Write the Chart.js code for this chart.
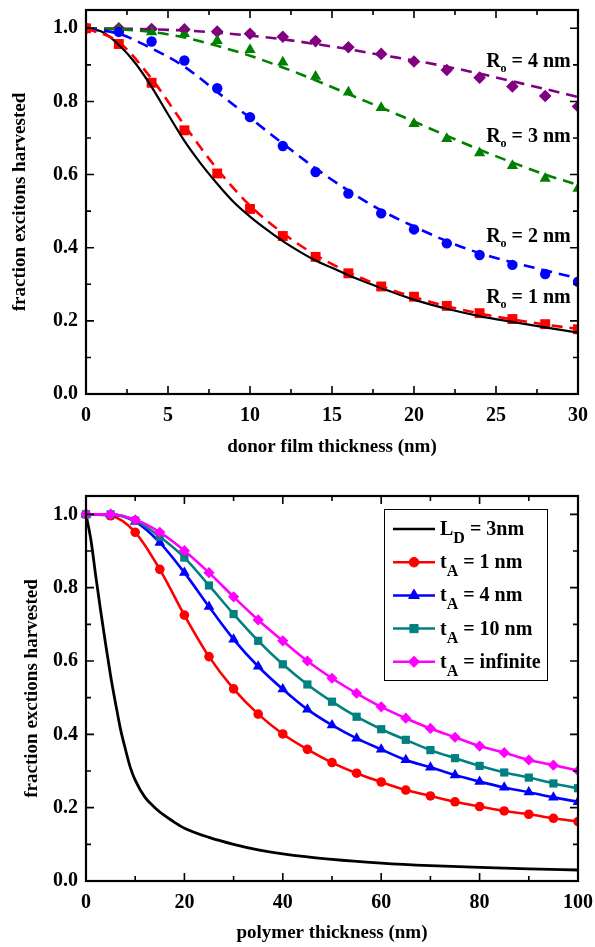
<!DOCTYPE html>
<html>
<head>
<meta charset="utf-8">
<script src="https://cdn.jsdelivr.net/npm/chart.js@4.4.1/dist/chart.umd.min.js"></script>
<style>
  html, body { margin: 0; padding: 0; background: #fff; }
  canvas { position: absolute; left: 0; }
  #donorChart { top: 0; }
  #polymerChart { top: 470px; }
</style>
</head>
<body>
<canvas id="donorChart" width="595" height="470"></canvas>
<canvas id="polymerChart" width="595" height="477"></canvas>
<script>
// ---- top panel: donor film thickness ----
const donorX = [0, 2, 4, 6, 8, 10, 12, 14, 16, 18, 20, 22, 24, 26, 28, 30];
const donorXTicks = [0, 5, 10, 15, 20, 25, 30];

// solid black curve (no energy transfer)
const bareX = [0, 1, 2, 3, 4, 5, 6, 7, 8, 9, 10, 11, 12, 13, 14, 15, 16, 18, 20, 22, 24, 26, 28, 30];
const bareCurve = [1.0, 0.99, 0.955, 0.905, 0.84, 0.765, 0.692, 0.63, 0.575, 0.525, 0.485, 0.45, 0.418, 0.39, 0.365, 0.345, 0.325, 0.29, 0.258, 0.233, 0.213, 0.197, 0.182, 0.168];

// symbols
const ro1Points = [1.0, 0.957, 0.851, 0.721, 0.603, 0.506, 0.432, 0.375, 0.33, 0.294, 0.266, 0.241, 0.221, 0.205, 0.191, 0.177];
const ro2Points = [1.0, 0.99, 0.964, 0.912, 0.836, 0.757, 0.678, 0.607, 0.548, 0.494, 0.45, 0.412, 0.38, 0.353, 0.328, 0.307];
const ro3Points = [1.0, 0.998, 0.99, 0.985, 0.966, 0.941, 0.907, 0.868, 0.825, 0.783, 0.739, 0.698, 0.659, 0.624, 0.589, 0.562];
const ro4Points = [1.0, 1.0, 0.998, 0.997, 0.991, 0.985, 0.977, 0.965, 0.948, 0.93, 0.909, 0.886, 0.865, 0.841, 0.815, 0.786];

// dashed fits
const ro1Fit = [1.0, 0.962, 0.862, 0.735, 0.615, 0.515, 0.44, 0.38, 0.333, 0.295, 0.265, 0.24, 0.22, 0.204, 0.19, 0.178];
const ro2Fit = [1.0, 0.985, 0.945, 0.895, 0.826, 0.755, 0.685, 0.617, 0.556, 0.502, 0.458, 0.418, 0.385, 0.36, 0.338, 0.316];
const ro3Fit = [1.0, 0.997, 0.99, 0.975, 0.952, 0.925, 0.893, 0.858, 0.82, 0.783, 0.745, 0.706, 0.668, 0.633, 0.6, 0.572];
const ro4Fit = [1.0, 0.999, 0.997, 0.994, 0.988, 0.98, 0.97, 0.957, 0.943, 0.927, 0.912, 0.895, 0.876, 0.855, 0.834, 0.812];

const roLabels = ['4', '3', '2', '1'];

// ---- bottom panel: polymer thickness ----
const polyX = [0, 5, 10, 15, 20, 25, 30, 35, 40, 45, 50, 55, 60, 65, 70, 75, 80, 85, 90, 95, 100];
const polyXTicks = [0, 20, 40, 60, 80, 100];

const ldX = [0, 1, 2, 3, 4, 5, 6, 7, 8, 9, 10, 12, 14, 16, 18, 20, 25, 30, 35, 40, 50, 60, 70, 80, 90, 100];
const ldCurve = [1.0, 0.93, 0.83, 0.735, 0.645, 0.56, 0.485, 0.415, 0.36, 0.31, 0.275, 0.228, 0.2, 0.178, 0.16, 0.144, 0.119, 0.1, 0.085, 0.074, 0.059, 0.049, 0.042, 0.037, 0.033, 0.03];

const tA1 = [1.0, 0.996, 0.951, 0.85, 0.725, 0.612, 0.524, 0.455, 0.401, 0.359, 0.323, 0.294, 0.27, 0.248, 0.232, 0.216, 0.203, 0.191, 0.182, 0.171, 0.162];
const tA4 = [1.0, 1.0, 0.98, 0.923, 0.841, 0.748, 0.659, 0.585, 0.523, 0.468, 0.425, 0.389, 0.359, 0.33, 0.31, 0.289, 0.271, 0.255, 0.242, 0.228, 0.216];
const tA10 = [1.0, 1.0, 0.983, 0.939, 0.882, 0.806, 0.728, 0.655, 0.591, 0.536, 0.489, 0.448, 0.414, 0.385, 0.357, 0.335, 0.314, 0.296, 0.282, 0.266, 0.253];
const tAinf = [1.0, 1.0, 0.985, 0.951, 0.901, 0.841, 0.775, 0.712, 0.655, 0.6, 0.553, 0.512, 0.475, 0.444, 0.416, 0.392, 0.368, 0.35, 0.33, 0.316, 0.301];

const legendMain = ['L', 't', 't', 't', 't'];
const legendSub = ['D', 'A', 'A', 'A', 'A'];
const legendRest = [' = 3nm', ' = 1 nm', ' = 4 nm', ' = 10 nm', ' = infinite'];

const yTicks = [0, 0.2, 0.4, 0.6, 0.8, 1.0];

const FONT = '"Liberation Serif", "Times New Roman", serif';

function pairs(xs, ys) {
    return xs.map((x, i) => ({ x: x, y: ys[i] }));
}

// midpoints between major ticks -> minor ticks
function midpoints(arr) {
    const out = [];
    for (let i = 0; i < arr.length - 1; i++) out.push((arr[i] + arr[i + 1]) / 2);
    return out;
}

// box frame + inward ticks on all four sides
const frameTicks = {
    id: 'frameTicks',
    afterDatasetsDraw(chart, args, opts) {
        const { ctx, chartArea: a, scales: { x, y } } = chart;
        ctx.save();
        ctx.strokeStyle = '#000';
        ctx.lineWidth = 1.6;
        ctx.beginPath();
        const tick = (vals, len) => {
            vals.forEach(v => {
                const px = x.getPixelForValue(v);
                ctx.moveTo(px, a.bottom); ctx.lineTo(px, a.bottom - len);
                ctx.moveTo(px, a.top); ctx.lineTo(px, a.top + len);
            });
        };
        const tickY = (vals, len) => {
            vals.forEach(v => {
                const py = y.getPixelForValue(v);
                ctx.moveTo(a.left, py); ctx.lineTo(a.left + len, py);
                ctx.moveTo(a.right, py); ctx.lineTo(a.right - len, py);
            });
        };
        tick(opts.xMajor, 8);
        tick(midpoints(opts.xMajor), 5);
        tickY(yTicks, 8);
        tickY(midpoints(yTicks), 5);
        ctx.stroke();
        ctx.lineWidth = 2.2;
        ctx.strokeRect(a.left, a.top, a.right - a.left, a.bottom - a.top);
        ctx.restore();
    }
};

// "Ro = n nm" labels on the top panel
const roText = {
    id: 'roText',
    afterDatasetsDraw(chart, args, opts) {
        const { ctx, scales: { x, y } } = chart;
        ctx.save();
        ctx.fillStyle = '#000';
        ctx.textBaseline = 'alphabetic';
        roLabels.forEach((lab, i) => {
            let px = x.getPixelForValue(opts.x);
            const py = y.getPixelForValue(opts.y[i]);
            ctx.font = 'bold 20px ' + FONT;
            ctx.fillText('R', px, py);
            px += ctx.measureText('R').width;
            ctx.font = 'bold 12px ' + FONT;
            ctx.fillText('o', px, py + 5);
            px += ctx.measureText('o').width;
            ctx.font = 'bold 20px ' + FONT;
            ctx.fillText(' = ' + lab + ' nm', px, py);
        });
        ctx.restore();
    }
};

// boxed legend in the bottom panel
const boxLegend = {
    id: 'boxLegend',
    afterDatasetsDraw(chart) {
        const { ctx, chartArea: a } = chart;
        const left = a.right - 194, top = a.top + 13, w = 163, h = 171;
        ctx.save();
        ctx.fillStyle = '#fff';
        ctx.fillRect(left, top, w, h);
        ctx.strokeStyle = '#000';
        ctx.lineWidth = 1;
        ctx.strokeRect(left + 0.5, top + 0.5, w, h);
        chart.data.datasets.forEach((ds, i) => {
            const y = top + 20 + i * 33.2;
            ctx.strokeStyle = ds.borderColor;
            ctx.lineWidth = 2.5;
            ctx.beginPath();
            ctx.moveTo(left + 9, y);
            ctx.lineTo(left + 51, y);
            ctx.stroke();
            if (ds.pointRadius > 0) {
                ctx.fillStyle = ds.borderColor;
                ctx.lineWidth = 1;
                Chart.helpers.drawPoint(ctx, {
                    pointStyle: ds.pointStyle,
                    radius: ds.pointRadius,
                    rotation: 0,
                    borderWidth: 1
                }, left + 30, y);
            }
            ctx.fillStyle = '#000';
            let tx = left + 56;
            ctx.font = 'bold 20px ' + FONT;
            ctx.fillText(legendMain[i], tx, y + 6);
            tx += ctx.measureText(legendMain[i]).width;
            ctx.font = 'bold 16px ' + FONT;
            ctx.fillText(legendSub[i], tx, y + 14);
            tx += ctx.measureText(legendSub[i]).width;
            ctx.font = 'bold 20px ' + FONT;
            ctx.fillText(legendRest[i], tx, y + 6);
        });
        ctx.restore();
    }
};

function axes(xMax, xTicks, xTitle, yTitle, titleXPad, yTitlePad) {
    return {
        x: {
            type: 'linear',
            min: 0,
            max: xMax,
            grid: { display: false, drawTicks: false },
            border: { display: false },
            afterBuildTicks: s => { s.ticks = xTicks.map(v => ({ value: v })); },
            afterFit: s => {
                s.height = titleXPad.height;
                s.paddingLeft = 0;
                s.paddingRight = 0;
            },
            ticks: {
                color: '#000',
                padding: 10,
                maxRotation: 0,
                font: { family: FONT, weight: 'bold', size: 20 },
                callback: v => String(v)
            },
            title: {
                display: true,
                text: xTitle,
                color: '#000',
                padding: { top: 0, bottom: titleXPad.bottom },
                font: { family: FONT, weight: 'bold', size: 19 }
            }
        },
        y: {
            type: 'linear',
            min: 0,
            max: 1.05,
            grid: { display: false, drawTicks: false },
            border: { display: false },
            afterBuildTicks: s => { s.ticks = yTicks.map(v => ({ value: v })); },
            afterFit: s => {
                s.width = 86;
                s.paddingTop = 0;
                s.paddingBottom = 0;
            },
            ticks: {
                color: '#000',
                padding: 8,
                font: { family: FONT, weight: 'bold', size: 20 },
                callback: v => Number(v).toFixed(1)
            },
            title: {
                display: true,
                text: yTitle,
                color: '#000',
                padding: { top: yTitlePad, bottom: 0 },
                font: { family: FONT, weight: 'bold', size: 19 }
            }
        }
    };
}

function fitLine(data, color) {
    return {
        data: pairs(donorX, data),
        borderColor: color,
        borderWidth: 2.6,
        borderDash: [11, 7],
        pointRadius: 0,
        cubicInterpolationMode: 'monotone',
        fill: false
    };
}

function symbols(data, color, style, r) {
    return {
        data: pairs(donorX, data),
        showLine: false,
        pointStyle: style,
        pointRadius: r,
        pointBackgroundColor: color,
        pointBorderColor: color,
        pointBorderWidth: 0,
        borderColor: color
    };
}

new Chart(document.getElementById('donorChart'), {
    type: 'line',
    data: {
        datasets: [
            fitLine(ro1Fit, '#ff0000'),
            fitLine(ro2Fit, '#0000ff'),
            fitLine(ro3Fit, '#008000'),
            fitLine(ro4Fit, '#800080'),
            {
                data: pairs(bareX, bareCurve),
                borderColor: '#000',
                borderWidth: 2.2,
                pointRadius: 0,
                cubicInterpolationMode: 'monotone'
            },
            symbols(ro1Points, '#ff0000', 'rect', 7),
            symbols(ro2Points, '#0000ff', 'circle', 5.2),
            symbols(ro3Points, '#008000', 'triangle', 6.5),
            symbols(ro4Points, '#800080', 'rectRot', 6.3)
        ]
    },
    options: {
        responsive: false,
        animation: false,
        layout: { padding: { left: 0, right: 17, top: 10, bottom: 0 } },
        plugins: {
            legend: { display: false },
            tooltip: { enabled: false },
            frameTicks: { xMajor: donorXTicks },
            roText: { x: 24.4, y: [0.893, 0.689, 0.416, 0.248] }
        },
        scales: axes(30, donorXTicks, 'donor film thickness (nm)', 'fraction excitons harvested',
            { height: 76, bottom: 12 }, 9)
    },
    plugins: [frameTicks, roText]
});

function polySeries(data, color, style, r, order) {
    return {
        data: pairs(polyX, data),
        borderColor: color,
        backgroundColor: color,
        borderWidth: 2.6,
        pointStyle: style,
        pointRadius: r,
        pointBackgroundColor: color,
        pointBorderColor: color,
        pointBorderWidth: 0,
        cubicInterpolationMode: 'monotone',
        clip: { left: 8, top: 8, right: 0, bottom: 0 },
        order: order
    };
}

new Chart(document.getElementById('polymerChart'), {
    type: 'line',
    data: {
        datasets: [
            {
                data: pairs(ldX, ldCurve),
                borderColor: '#000',
                borderWidth: 2.8,
                pointRadius: 0,
                cubicInterpolationMode: 'monotone',
                order: 4
            },
            polySeries(tA1, '#ff0000', 'circle', 4.8, 3),
            polySeries(tA4, '#0000ff', 'triangle', 6.2, 2),
            polySeries(tA10, '#008080', 'rect', 5.8, 1),
            polySeries(tAinf, '#ff00ff', 'rectRot', 5.6, 0)
        ]
    },
    options: {
        responsive: false,
        animation: false,
        layout: { padding: { left: 0, right: 17, top: 26, bottom: 0 } },
        plugins: {
            legend: { display: false },
            tooltip: { enabled: false },
            frameTicks: { xMajor: polyXTicks }
        },
        scales: axes(100, polyXTicks, 'polymer thickness (nm)', 'fraction exctions harvested',
            { height: 66, bottom: 3 }, 21)
    },
    plugins: [frameTicks, boxLegend]
});
</script>
</body>
</html>
